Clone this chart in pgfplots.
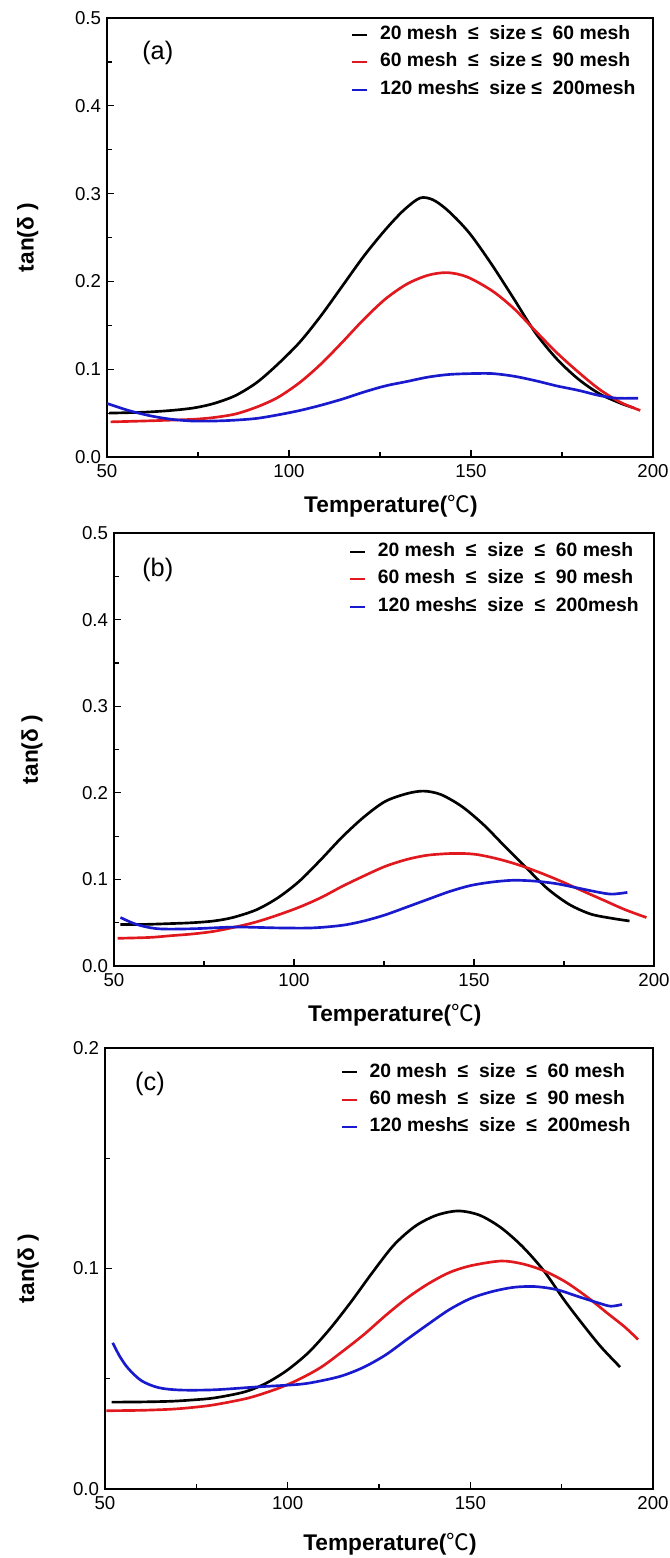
\documentclass[border=0pt]{standalone}
\usepackage{fontspec}
\setmainfont{Liberation Sans}
\newfontfamily\cjk{Noto Sans CJK SC}
\usepackage{pgfplots}
\pgfplotsset{compat=1.18}

\definecolor{cred}{RGB}{225,25,30}
\definecolor{cblue}{RGB}{25,25,205}

% common look of the three panels
\pgfplotsset{
  panel/.style={
    scale only axis,
    xmin=50, xmax=200, ymin=0,
    xtick={50,100,150,200},
    minor x tick num=1, minor y tick num=1,
    xtick pos=left, ytick pos=left, tick align=inside,
    axis line style={line width=1.2pt},
    tick style={line width=0.9pt, black},
    major tick length=5pt, minor tick length=3.5pt,
    /pgf/number format/assume math mode=true,
    ticklabel style={font=\fontsize{14}{17}\selectfont},
    x tick label style={yshift=-2pt},
    y tick label style={xshift=-1pt, /pgf/number format/.cd, fixed, fixed zerofill, precision=1, /tikz/.cd},
    xlabel={Temperature({\cjk\mdseries ℃})},
    ylabel={tan(δ )},
    label style={font=\fontsize{17}{20}\selectfont\bfseries},
    ylabel style={anchor=center},
    legend style={draw=none, fill=none, anchor=north west, inner sep=0pt,
      font=\fontsize{14.5}{16}\selectfont\bfseries, row sep=5.5pt,
      nodes={inner sep=1pt, text height=10pt, text depth=3pt},
      /tikz/every odd column/.append style={column sep=8pt}},
    legend cell align=left,
    legend image code/.code={\draw[#1, line width=1.5pt] (0pt,0pt) -- (11pt,0pt);},
    every axis plot/.append style={line width=2pt, smooth},
  },
}

\begin{document}
\begin{tikzpicture}
\useasboundingbox (0,0) rectangle (502.5pt,-1168.5pt);

% ---------------- (a)
\begin{axis}[panel,
  at={(80.25pt,-342.75pt)}, anchor=south west,
  width=409.5pt, height=329.25pt,
  ymax=0.5, ytick={0,0.1,...,0.5},
  xlabel style={at={(axis description cs:0.52,-0.112)}, anchor=center},
  ylabel style={at={(axis description cs:-0.145,0.5)}},
  legend style={at={(axis description cs:0.447,0.985)}},
]
\addplot[black] coordinates {
(50.6,0.050)(60,0.051)(67.6,0.053)(74,0.056)(79.4,0.061)(85.3,0.070)(91.2,0.085)
(97,0.106)(103,0.131)(108.8,0.161)(114.7,0.195)(120.6,0.229)(126.5,0.259)(131.5,0.281)
(136,0.295)(139.5,0.293)(143,0.283)(147,0.267)(150.5,0.250)(155.9,0.218)(161.8,0.180)
(167.6,0.142)(173.5,0.112)(179.4,0.089)(185.3,0.072)(191.2,0.061)(194.7,0.056)};
\addlegendentry{20 mesh~~≤~~size~≤~~60 mesh}
\addplot[cred] coordinates {
(51,0.040)(60,0.041)(67.6,0.042)(74,0.043)(79.4,0.045)(85.3,0.049)(91.2,0.057)
(97,0.068)(103,0.085)(108.8,0.106)(114.7,0.131)(120.6,0.157)(126.5,0.180)(132.4,0.197)
(138.2,0.207)(143.5,0.210)(149,0.205)(155.9,0.189)(161.8,0.169)(167.6,0.144)
(173.5,0.119)(179.4,0.097)(185.3,0.077)(191.2,0.062)(196.5,0.053)};
\addlegendentry{60 mesh~~≤~~size~≤~~90 mesh}
\addplot[cblue] coordinates {
(50,0.061)(55.9,0.053)(61.8,0.047)(67.6,0.043)(73.5,0.041)(79.4,0.041)(85.3,0.042)
(91.2,0.044)(97,0.048)(103,0.053)(108.8,0.059)(114.7,0.066)(120.6,0.074)(126.5,0.081)
(132.4,0.086)(138.2,0.091)(144,0.094)(150,0.095)(155.9,0.095)(161.8,0.092)(167.6,0.087)
(173.5,0.081)(179.4,0.076)(185.3,0.070)(190,0.067)(195.9,0.067)};
\addlegendentry{120 mesh≤~~size~≤~~200mesh}
\node[font=\fontsize{19}{22}\selectfont] at (axis description cs:0.093,0.92) {(a)};
\end{axis}

% ---------------- (b)
\begin{axis}[panel,
  at={(85.5pt,-724.5pt)}, anchor=south west,
  width=405pt, height=324.75pt,
  ymax=0.5, ytick={0,0.1,...,0.5},
  xlabel style={at={(axis description cs:0.52,-0.113)}, anchor=center},
  ylabel style={at={(axis description cs:-0.152,0.5)}},
  legend style={at={(axis description cs:0.435,0.98)}},
]
\addplot[black] coordinates {
(51.8,0.048)(58,0.048)(65.8,0.049)(71.8,0.050)(77.7,0.052)(83,0.056)(89.6,0.065)
(95.6,0.079)(101.5,0.098)(107.5,0.123)(113.4,0.149)(119.4,0.172)(125.3,0.190)(131.3,0.199)
(136,0.202)(140.8,0.198)(146.7,0.184)(152.7,0.163)(158.6,0.138)(164.6,0.113)(170.5,0.089)
(176.5,0.071)(182.4,0.060)(188.4,0.055)(193.2,0.052)};
\addlegendentry{20 mesh~~≤~~size~~≤~~60 mesh}
\addplot[cred] coordinates {
(51,0.032)(59.9,0.033)(65.8,0.035)(71.8,0.037)(77.7,0.040)(83.7,0.045)(89.6,0.051)
(95.6,0.059)(101.5,0.068)(107.5,0.079)(113.4,0.092)(119.4,0.104)(125.3,0.115)(131.3,0.123)
(137.2,0.128)(144.4,0.130)(150.3,0.129)(156.3,0.124)(162.2,0.117)(168.2,0.108)(174.1,0.098)
(180,0.087)(186,0.076)(192,0.065)(197.9,0.056)};
\addlegendentry{60 mesh~~≤~~size~~≤~~90 mesh}
\addplot[cblue] coordinates {
(51.8,0.056)(56.3,0.048)(62.3,0.043)(71.8,0.043)(83.7,0.045)(95.6,0.044)(105.1,0.044)
(113.4,0.047)(119.4,0.052)(125.3,0.059)(131.3,0.068)(137.2,0.077)(143.2,0.086)(149.1,0.093)
(155.1,0.097)(161,0.099)(167,0.098)(173,0.095)(178.9,0.090)(184.8,0.085)(188.4,0.083)
(192.6,0.085)};
\addlegendentry{120 mesh≤~~size~~≤~~200mesh}
\node[font=\fontsize{19}{22}\selectfont] at (axis description cs:0.081,0.915) {(b)};
\end{axis}

% ---------------- (c)
\begin{axis}[panel,
  at={(78.75pt,-1116.75pt)}, anchor=south west,
  width=411pt, height=330.75pt,
  ymax=0.2, ytick={0,0.1,0.2},
  xlabel style={at={(axis description cs:0.52,-0.125)}, anchor=center},
  ylabel style={at={(axis description cs:-0.14,0.5)}},
  legend style={at={(axis description cs:0.43,0.968)}},
]
\addplot[black] coordinates {
(51.8,0.0394)(60,0.0395)(68.2,0.0398)(74,0.0404)(79.9,0.0413)(88.1,0.0440)(94,0.0479)
(99.8,0.0538)(105.7,0.0619)(111.5,0.0725)(117.4,0.085)(123.2,0.0982)(129.1,0.1107)
(135,0.1193)(140.8,0.1242)(146.7,0.1261)(152.5,0.1242)(158.4,0.1185)(164.3,0.1099)
(170.1,0.099)(176,0.085)(181.8,0.0725)(186,0.0640)(191,0.0553)};
\addlegendentry{20 mesh~~≤~~size~~≤~~60 mesh}
\addplot[cred] coordinates {
(50.4,0.0355)(60,0.0357)(68.2,0.0362)(74,0.0370)(79.9,0.0382)(89.3,0.0413)(97.5,0.0457)
(103.3,0.0499)(109.2,0.0553)(115,0.0624)(120.9,0.0701)(126.8,0.0787)(132.6,0.0865)
(138.5,0.0931)(144.3,0.0982)(150.2,0.1013)(158.4,0.1034)(164.3,0.1021)(170.1,0.099)
(176,0.094)(181.8,0.0873)(187.7,0.0795)(192.4,0.0733)(195.9,0.0678)};
\addlegendentry{60 mesh~~≤~~size~~≤~~90 mesh}
\addplot[cblue] coordinates {
(52.1,0.0663)(54.1,0.060)(56.4,0.0546)(60,0.0491)(64.6,0.046)(70.5,0.0449)(79.9,0.045)
(91.6,0.0463)(103.3,0.0475)(109.2,0.0491)(115,0.0514)(120.9,0.0553)(126.8,0.0608)
(132.6,0.0678)(138.5,0.0748)(144.3,0.0814)(150.2,0.0865)(156.1,0.0896)(162,0.0915)
(167.8,0.0918)(173.7,0.0904)(179.5,0.0873)(185.4,0.0842)(188.5,0.0829)(191.5,0.0837)};
\addlegendentry{120 mesh≤~~size~~≤~~200mesh}
\node[font=\fontsize{19}{22}\selectfont] at (axis description cs:0.082,0.918) {(c)};
\end{axis}
\end{tikzpicture}
\end{document}
